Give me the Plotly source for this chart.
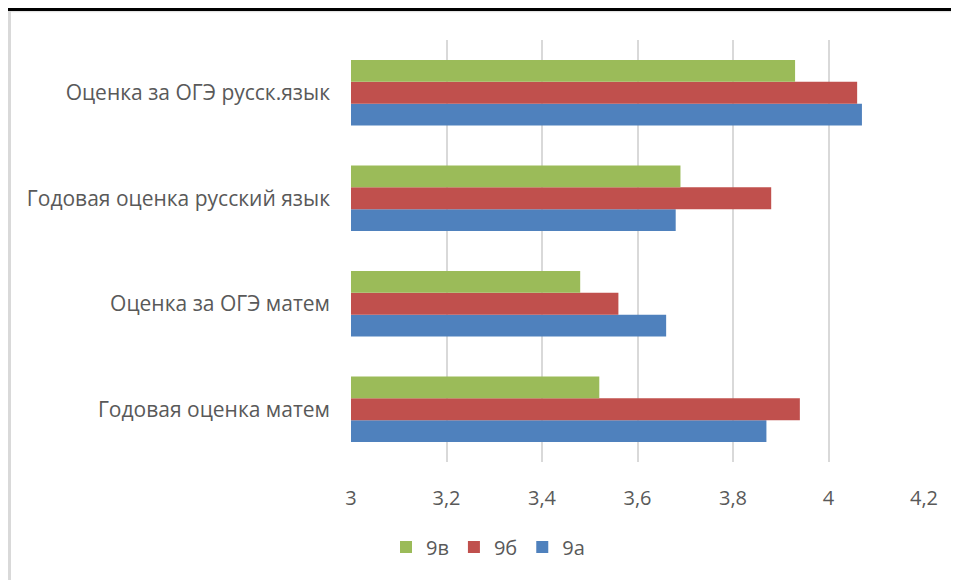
import plotly.graph_objects as go

categories = ["Годовая оценка матем", "Оценка за ОГЭ матем",
              "Годовая оценка русский язык", "Оценка за ОГЭ русск.язык"]
series_names = ["9а", "9б", "9в"]
values_9a = [3.87, 3.66, 3.68, 4.07]
values_9b = [3.94, 3.56, 3.88, 4.06]
values_9v = [3.52, 3.48, 3.69, 3.93]
colors = ["#4F81BD", "#C0504D", "#9BBB59"]
tick_vals = [3, 3.2, 3.4, 3.6, 3.8, 4, 4.2]
tick_text = ["3", "3,2", "3,4", "3,6", "3,8", "4", "4,2"]

FONT = "Open Sans"
TXT = "#595959"

fig = go.Figure()
for name, vals, col in zip(series_names, [values_9a, values_9b, values_9v], colors):
    fig.add_trace(go.Bar(
        y=categories, x=[v - 3 for v in vals], base=3, orientation="h",
        name=name, marker=dict(color=col, line=dict(width=0)),
        hovertemplate="%{y}: %{customdata}<extra>" + name + "</extra>",
        customdata=vals,
    ))

# page body has an 8px margin, so the figure is drawn 8px smaller and offset
OFF = 8
W, H = 959 - OFF, 580 - OFF
L, R, T, B = 351 - OFF, 35, 40 - OFF, 118
pw, ph = W - L - R, H - T - B

def px_x(px):
    return (px - OFF - L) / pw

def px_y(py):
    return (H - B - (py - OFF)) / ph

fig.update_layout(
    width=W, height=H,
    margin=dict(l=L, r=R, t=T, b=B, pad=0),
    paper_bgcolor="white", plot_bgcolor="white",
    barmode="group", bargap=0.38, bargroupgap=0,
    font=dict(family=FONT, color=TXT, size=20),
    xaxis=dict(range=[3, 4.2], tickvals=tick_vals, ticktext=tick_text,
               showgrid=True, gridcolor="#D9D9D9", gridwidth=1.5,
               zeroline=False, showline=False, ticks="",
               ticklabelstandoff=22, tickfont=dict(size=20, color=TXT, family=FONT)),
    yaxis=dict(showgrid=False, showline=False, ticks="", zeroline=False,
               ticklabelstandoff=20, tickfont=dict(size=21, color=TXT, family=FONT)),
    legend=dict(orientation="h", traceorder="reversed",
                x=px_x(488), xanchor="center", y=px_y(547), yanchor="middle",
                font=dict(size=20, color=TXT, family=FONT),
                itemwidth=30, tracegroupgap=0),
    showlegend=True,
    shapes=[
        dict(type="line", xref="paper", yref="paper",
             x0=px_x(0), x1=px_x(959), y0=px_y(11.5), y1=px_y(11.5),
             line=dict(color="#E3E3E3", width=1.5)),
        dict(type="line", xref="paper", yref="paper",
             x0=px_x(0), x1=px_x(959), y0=px_y(9.5), y1=px_y(9.5),
             line=dict(color="black", width=3)),
        dict(type="line", xref="paper", yref="paper",
             x0=px_x(9.5), x1=px_x(9.5), y0=px_y(11), y1=px_y(580),
             line=dict(color="#D9D9D9", width=3)),
    ],
)

fig.write_html("out.html")
